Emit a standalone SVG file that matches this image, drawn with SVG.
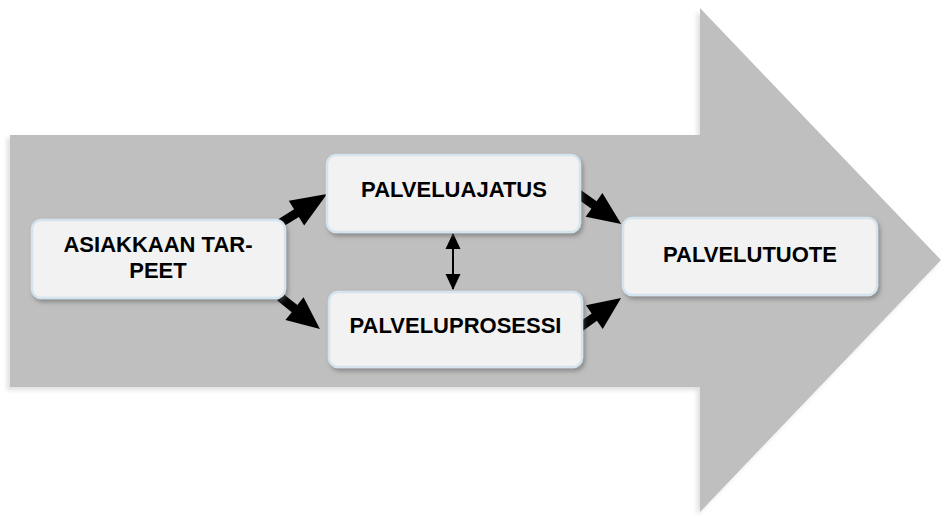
<svg xmlns="http://www.w3.org/2000/svg" width="941" height="516" viewBox="0 0 941 516">
<defs>
<filter id="bigshadow" x="-5%" y="-5%" width="110%" height="110%">
<feDropShadow dx="-3" dy="3" stdDeviation="2" flood-color="#000" flood-opacity="0.12"/>
</filter>
<filter id="boxshadow" x="-10%" y="-10%" width="120%" height="130%">
<feDropShadow dx="2" dy="3" stdDeviation="2" flood-color="#555" flood-opacity="0.5"/>
</filter>
<marker id="thin" viewBox="0 0 16 16" refX="15" refY="8" markerWidth="16" markerHeight="16" markerUnits="userSpaceOnUse" orient="auto-start-reverse">
<path d="M0,0.5 L16,8 L0,15.5 Z" fill="#000"/>
</marker>
<path id="blk" d="M0,-4.5 L20,-4.5 L20,-14.5 L55,0 L20,14.5 L20,4.5 L0,4.5 Z"/>
</defs>
<style>
.box{fill:#f2f2f2;stroke:#d3e4ee;stroke-width:2.5;filter:url(#boxshadow)}
.lbl{font-family:"Liberation Sans",Arial,sans-serif;font-weight:bold;font-size:22px;fill:#000;text-anchor:middle}
.blk{fill:#000}
</style>
<g id="bigarrow">
<polygon points="10,135 700,135 700,8 941,260 700,512 700,387 10,387" fill="#bfbfbf" filter="url(#bigshadow)"/>
</g>
<g id="connectors">
<use href="#blk" class="blk" transform="translate(279,224) rotate(-32) scale(1.03,1)"/>
<use href="#blk" class="blk" transform="translate(280,297) rotate(38.7) scale(0.93,1)"/>
<use href="#blk" class="blk" transform="translate(578.5,194) rotate(35.2) scale(0.95,1)"/>
<use href="#blk" class="blk" transform="translate(579,328) rotate(-35.5) scale(0.94,1)"/>
<line x1="453" y1="234" x2="453" y2="289" stroke="#000" stroke-width="2" marker-start="url(#thin)" marker-end="url(#thin)"/>
</g>
<g id="asiakkaan">
<rect class="box" x="32" y="220" width="253" height="78" rx="9"/>
<text class="lbl" x="158" y="252">ASIAKKAAN TAR-</text>
<text class="lbl" x="158" y="278">PEET</text>
</g>
<g id="palveluajatus">
<rect class="box" x="327" y="155" width="253" height="77" rx="9"/>
<text class="lbl" x="454" y="197">PALVELUAJATUS</text>
</g>
<g id="palveluprosessi">
<rect class="box" x="329" y="292" width="253" height="75" rx="9"/>
<text class="lbl" x="455.5" y="333">PALVELUPROSESSI</text>
</g>
<g id="palvelutuote">
<rect class="box" x="623" y="218" width="254" height="77" rx="9"/>
<text class="lbl" x="750" y="262">PALVELUTUOTE</text>
</g>
</svg>
